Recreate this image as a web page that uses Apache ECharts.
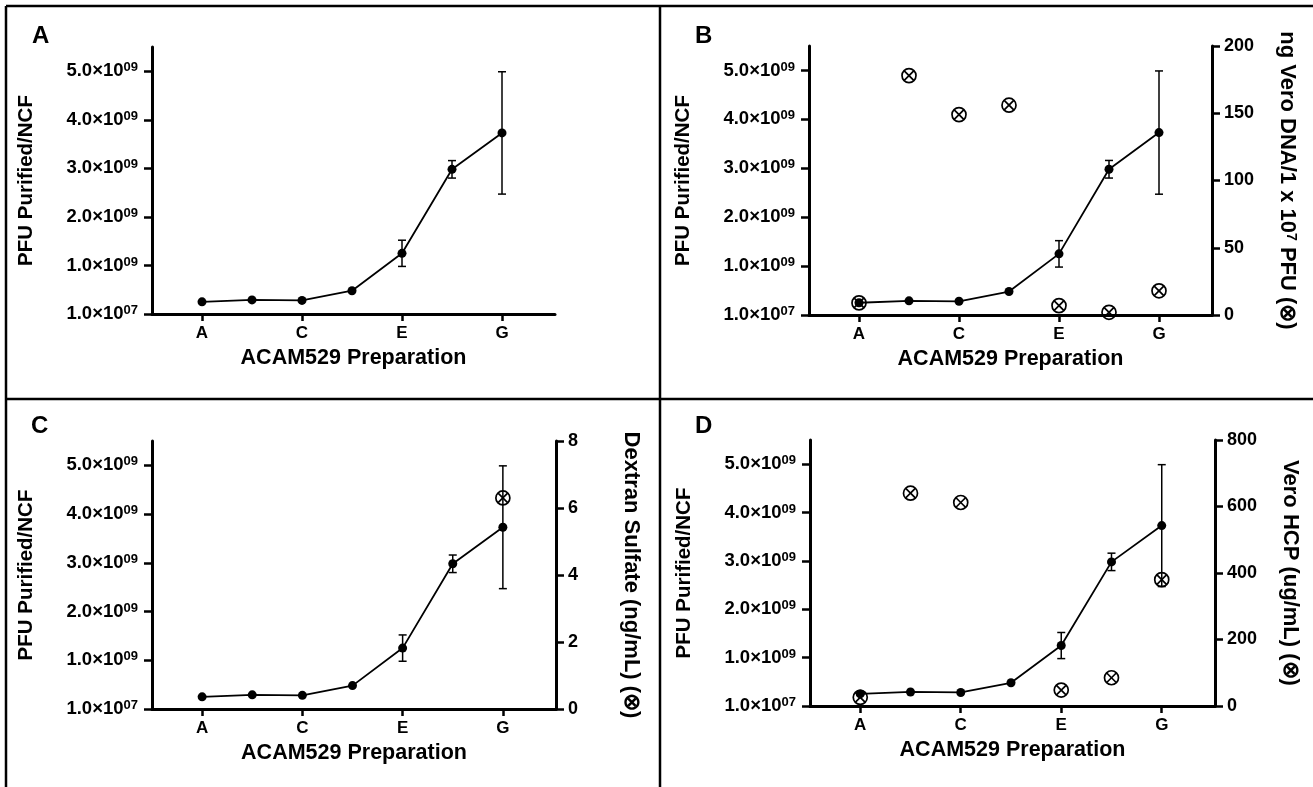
<!DOCTYPE html>
<html lang="en">
<head>
<meta charset="UTF-8" />
<title>ACAM529 Preparation</title>
<style>
  html, body { margin: 0; padding: 0; background: #fff; }
  #main { width: 1313px; height: 787px; }
</style>
</head>
<body>
<div id="main"></div>
<script src="https://cdn.jsdelivr.net/npm/echarts@6/dist/echarts.min.js"></script>
<script>
// data
var categories = ['A', 'B', 'C', 'D', 'E', 'F', 'G'];
var labelledCats = [1, 3, 5, 7];          // A, C, E, G carry ticks
var pfu = [0.25e9, 0.29e9, 0.28e9, 0.48e9, 1.25e9, 2.98e9, 3.73e9];
var pfuErr = [0, 0, 0, 0, 0.27e9, 0.18e9, 1.26e9];
var dnaB = [9, 178, 149, 156, 7, 2, 18];
var dextranC = [null, null, null, null, null, null, 6.3];
var hcpD = [26, 640, 612, null, 48, 85, 380];
var leftTicks = [0, 1e9, 2e9, 3e9, 4e9, 5e9];
var leftTickLabels = [['1.0', '07'], ['1.0', '09'], ['2.0', '09'], ['3.0', '09'], ['4.0', '09'], ['5.0', '09']];
var panelLetters = ['A', 'B', 'C', 'D'];

var FONT = '"Liberation Sans", Arial, Helvetica, sans-serif';
var BOLD = { fontFamily: FONT, fontWeight: 'bold', color: '#000' };

var grids = [
  { left: 152, top: 47, width: 403, height: 267 },
  { left: 809, top: 46, width: 403, height: 269 },
  { left: 152, top: 441, width: 404, height: 268 },
  { left: 810, top: 440, width: 405, height: 266 }
];
var rightAxes = [
  null,
  { max: 200, interval: 50, name: '{t|ng Vero DNA/1 x 10}{s|7}{t| PFU (⊗)}' },
  { max: 8, interval: 2, name: '{t|Dextran Sulfate (ng/mL) (⊗)}' },
  { max: 800, interval: 200, name: '{t|Vero HCP (ug/mL) (⊗)}' }
];
var markerData = [null, dnaB, dextranC, hcpD];
var letterPos = [[32, 24], [695, 24], [31, 414], [695, 414]];

var axisLine = { show: true, onZero: false, lineStyle: { color: '#000', width: 3 } };
var tickStyle = { color: '#000', width: 2.5 };

function leftLabel(v) {
  var k = Math.round(v / 1e9);
  var l = leftTickLabels[k];
  return '{m|' + l[0] + '×10}{s|' + l[1] + '}';
}

function errorBars(params, api) {
  var x = api.value(0);
  var lo = api.coord([x, api.value(1)]);
  var hi = api.coord([x, api.value(2)]);
  var w = 4;
  var st = { stroke: '#000', lineWidth: 1.5 };
  return {
    type: 'group',
    children: [
      { type: 'line', shape: { x1: hi[0], y1: hi[1], x2: lo[0], y2: lo[1] }, style: st },
      { type: 'line', shape: { x1: hi[0] - w, y1: hi[1], x2: hi[0] + w, y2: hi[1] }, style: st },
      { type: 'line', shape: { x1: lo[0] - w, y1: lo[1], x2: lo[0] + w, y2: lo[1] }, style: st }
    ]
  };
}

function crossCircle(params, api) {
  var p = api.coord([api.value(0), api.value(1)]);
  var r = 7, d = r * 0.68;
  var st = { stroke: '#000', lineWidth: 1.7, fill: null };
  return {
    type: 'group',
    children: [
      { type: 'circle', shape: { cx: p[0], cy: p[1], r: r }, style: { stroke: '#000', lineWidth: 1.7, fill: 'none' } },
      { type: 'line', shape: { x1: p[0] - d, y1: p[1] - d, x2: p[0] + d, y2: p[1] + d }, style: st },
      { type: 'line', shape: { x1: p[0] - d, y1: p[1] + d, x2: p[0] + d, y2: p[1] - d }, style: st }
    ]
  };
}

var option = {
  animation: false,
  backgroundColor: '#fff',
  textStyle: { fontFamily: FONT },
  grid: grids,
  xAxis: [],
  yAxis: [],
  series: [],
  graphic: []
};

grids.forEach(function (g, i) {
  option.xAxis.push({
    type: 'value', gridIndex: i, min: 0, max: 8.06,
    name: 'ACAM529 Preparation', nameLocation: 'middle', nameGap: 33,
    nameTextStyle: Object.assign({ fontSize: 21.5 }, BOLD),
    axisLine: axisLine,
    axisTick: { show: true, length: 7, lineStyle: tickStyle, customValues: labelledCats },
    axisLabel: Object.assign({
      fontSize: 17, margin: 11, customValues: labelledCats,
      formatter: function (v) { return categories[Math.round(v) - 1]; }
    }, BOLD),
    splitLine: { show: false }
  });

  var leftIdx = option.yAxis.length;
  option.yAxis.push({
    type: 'value', gridIndex: i, position: 'left', min: 0, max: 5.5e9,
    name: 'PFU Purified/NCF', nameLocation: 'middle', nameGap: 115,
    nameTextStyle: Object.assign({ fontSize: 20.5 }, BOLD),
    axisLine: axisLine,
    axisTick: { show: true, length: 8, lineStyle: tickStyle, customValues: leftTicks },
    axisLabel: {
      margin: 14, customValues: leftTicks, formatter: leftLabel,
      rich: {
        m: Object.assign({ fontSize: 18.5, lineHeight: 20 }, BOLD),
        s: Object.assign({ fontSize: 13, verticalAlign: 'top', lineHeight: 14 }, BOLD)
      }
    },
    splitLine: { show: false }
  });

  option.series.push({
    type: 'line', xAxisIndex: i, yAxisIndex: leftIdx, z: 4,
    data: pfu.map(function (v, k) { return [k + 1, v]; }),
    symbol: 'circle', symbolSize: 9,
    lineStyle: { color: '#000', width: 1.8 },
    itemStyle: { color: '#000' }
  });

  option.series.push({
    type: 'custom', xAxisIndex: i, yAxisIndex: leftIdx, z: 3,
    renderItem: errorBars,
    encode: { x: 0, y: [1, 2] },
    data: pfu.map(function (v, k) { return [k + 1, v - pfuErr[k], v + pfuErr[k]]; })
      .filter(function (d, k) { return pfuErr[k] > 0; })
  });

  var ra = rightAxes[i];
  if (ra) {
    var rightIdx = option.yAxis.length;
    option.yAxis.push({
      type: 'value', gridIndex: i, position: 'right', min: 0, max: ra.max, interval: ra.interval,
      name: ra.name, nameLocation: 'middle', nameGap: 64, nameRotate: -90,
      nameTextStyle: {
        rich: {
          t: Object.assign({ fontSize: 22 }, BOLD),
          s: Object.assign({ fontSize: 14, verticalAlign: 'top' }, BOLD)
        }
      },
      axisLine: axisLine,
      axisTick: { show: true, length: 8, lineStyle: tickStyle },
      axisLabel: Object.assign({ fontSize: 18, margin: 12 }, BOLD),
      splitLine: { show: false }
    });
    option.series.push({
      type: 'custom', xAxisIndex: i, yAxisIndex: rightIdx, z: 2,
      renderItem: crossCircle,
      encode: { x: 0, y: 1 },
      data: markerData[i].map(function (v, k) { return [k + 1, v]; })
        .filter(function (d) { return d[1] !== null; })
    });
  }

  option.graphic.push({
    type: 'text', left: letterPos[i][0], top: letterPos[i][1],
    style: { text: panelLetters[i], font: 'bold 24px ' + FONT, fill: '#000' }
  });
});

// panel frame
var frame = { stroke: '#000', lineWidth: 2.5 };
option.graphic.push(
  { type: 'line', shape: { x1: 6, y1: 6, x2: 6, y2: 787 }, style: frame },
  { type: 'line', shape: { x1: 6, y1: 6, x2: 1313, y2: 6 }, style: frame },
  { type: 'line', shape: { x1: 660, y1: 6, x2: 660, y2: 787 }, style: frame },
  { type: 'line', shape: { x1: 6, y1: 399, x2: 1313, y2: 399 }, style: frame }
);

var chart = echarts.init(document.getElementById('main'));
chart.setOption(option);
</script>
</body>
</html>
